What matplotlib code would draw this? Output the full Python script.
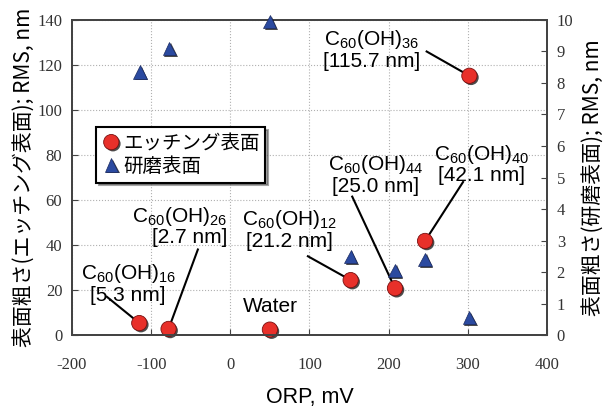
import numpy as np
import matplotlib
matplotlib.use("Agg")
import matplotlib.pyplot as plt
import matplotlib.patheffects as pe

plt.rcParams['mathtext.fontset'] = 'custom'
plt.rcParams['mathtext.rm'] = 'Liberation Sans'
plt.rcParams['mathtext.default'] = 'regular'
plt.rcParams['axes.unicode_minus'] = False

# エッチング表面 (left axis, nm)
etch_orp = [-115, -78, 50, 152, 208, 246, 302]
etch_rms = [5.3, 2.7, 2.4, 24.4, 20.8, 41.8, 115.2]

# 研磨表面 (right axis, nm)
pol_orp = [-114, -77, 50, 152, 208, 246, 302]
pol_rms = [8.35, 9.1, 9.95, 2.5, 2.05, 2.4, 0.55]

# annotation labels: text, text position, line start, target point index, alignment
labels = [
    (r'C$_{60}$(OH)$_{16}$' + '\n[5.3 nm]', (-129, 23), (-156, 17), 0, 'center'),
    (r'C$_{60}$(OH)$_{26}$' + '\n[2.7 nm]', (-4, 48.5), (-41, 38), 1, 'right'),
    ('Water', (51, 12.5), None, 2, 'center'),
    (r'C$_{60}$(OH)$_{12}$' + '\n[21.2 nm]', (75, 47), (98, 35), 3, 'center'),
    (r'C$_{60}$(OH)$_{44}$' + '\n[25.0 nm]', (184, 71.5), (154, 61.5), 4, 'center'),
    (r'C$_{60}$(OH)$_{40}$' + '\n[42.1 nm]', (317, 76), (294, 68), 5, 'center'),
    (r'C$_{60}$(OH)$_{36}$' + '\n[115.7 nm]', (178, 127), (248, 126), 6, 'center'),
]

red = '#e8302a'
blue = '#2b4aa0'
cjk = ['Noto Sans CJK JP', 'DejaVu Sans']
serif = 'Liberation Serif'

fig = plt.figure(figsize=(6.06, 4.08), dpi=100)
ax = fig.add_axes([0.1188, 0.1789, 0.7838, 0.7721])
ax2 = ax.twinx()

shadow = [pe.SimplePatchShadow(offset=(1.2, -1.2), shadow_rgbFace='k', alpha=0.7), pe.Normal()]

l1, = ax.plot(etch_orp, etch_rms, 'o', color=red, markersize=11, markeredgecolor='#7a1010',
              markeredgewidth=0.6, path_effects=shadow, zorder=5, clip_on=False)
l2, = ax2.plot(pol_orp, pol_rms, '^', color=blue, markersize=9.5, markeredgecolor='#1a2a60',
               markeredgewidth=0.5, path_effects=shadow, zorder=5, clip_on=False)

ax.set_xlim(-200, 400)
ax.set_ylim(0, 140)
ax2.set_ylim(0, 10)
ax.set_xticks(np.arange(-200, 401, 100))
ax.set_yticks(np.arange(0, 141, 20))
ax2.set_yticks(np.arange(0, 11, 1))

ax.grid(True, linestyle=':', color='#b0b0b0', linewidth=0.8)
ax.set_axisbelow(True)

for a in (ax, ax2):
    a.tick_params(direction='in', length=4, width=0.8, color='#444444', labelsize=12, pad=7)
    for lab in a.get_xticklabels() + a.get_yticklabels():
        lab.set_family(serif)
        lab.set_color('#333333')
    for s in a.spines.values():
        s.set_color('#444444')
        s.set_linewidth(1.4)
ax.tick_params(axis='x', pad=16)

ax.set_xlabel('ORP, mV', fontsize=15.5, family='Liberation Sans', labelpad=10)
ax.set_ylabel('表面粗さ(エッチング表面); RMS, nm', fontsize=15, family=cjk, labelpad=2)
ax2.set_ylabel('表面粗さ(研磨表面); RMS, nm', fontsize=15, family=cjk, labelpad=6)

for text, tpos, lstart, idx, ha in labels:
    ax.text(tpos[0], tpos[1], text, ha=ha, va='center', fontsize=15,
            family='Liberation Sans', linespacing=1.05, zorder=6)
    if lstart is not None:
        ax.plot([lstart[0], etch_orp[idx]], [lstart[1], etch_rms[idx]], color='k',
                linewidth=1.5, zorder=4)

leg = ax.legend([l1, l2], ['エッチング表面', '研磨表面'], loc='upper left',
                bbox_to_anchor=(0.05, 0.66), prop={'family': cjk, 'size': 14},
                frameon=True, fancybox=False, shadow=True, handletextpad=0.1,
                handlelength=1.0, borderpad=0.3, labelspacing=0.1, borderaxespad=0)
leg.get_frame().set_edgecolor('k')
leg.get_frame().set_linewidth(1.5)
leg.set_zorder(10)

fig.savefig('out.png', dpi=100)
